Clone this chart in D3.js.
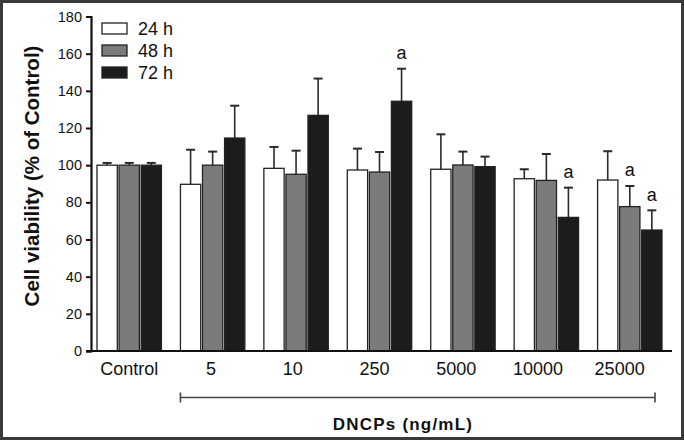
<!DOCTYPE html>
<html>
<head>
<meta charset="utf-8">
<script src="https://cdn.jsdelivr.net/npm/d3@7"></script>
<style>
  html, body { margin: 0; padding: 0; background: #fff; }
  svg { display: block; }
  text { font-family: "Liberation Sans", Arial, sans-serif; fill: #111; }
</style>
</head>
<body>
<svg id="chart"></svg>
<script>
// Data
const categories = ["Control", "5", "10", "250", "5000", "10000", "25000"];
const series = ["24 h", "48 h", "72 h"];
const mean24 = [100, 89.7, 98.3, 97.4, 97.8, 92.7, 92.0];
const err24 = [1.2, 18.6, 11.5, 11.5, 18.8, 5.1, 15.5];
const mean48 = [100, 100, 95.1, 96.3, 100.1, 91.8, 77.7];
const err48 = [1.2, 7.3, 12.7, 10.8, 7.2, 14.2, 11.1];
const mean72 = [100, 114.6, 126.8, 134.4, 99.2, 71.9, 65.1];
const err72 = [1.2, 17.4, 19.8, 17.5, 5.4, 16.0, 10.6];
const sig24 = ["", "", "", "", "", "", ""];
const sig48 = ["", "", "", "", "", "", "a"];
const sig72 = ["", "", "", "a", "", "a", "a"];
const yTicks = [0, 20, 40, 60, 80, 100, 120, 140, 160, 180];
const fills = ["#ffffff", "#7b7b7b", "#1c1c1c"];

const width = 684;
const height = 440;

const svg = d3.select("#chart")
  .attr("width", width)
  .attr("height", height);

// frame round the whole figure
svg.append("rect")
  .attr("x", 1.5).attr("y", 1.5)
  .attr("width", width - 3).attr("height", height - 3)
  .attr("fill", "#fff")
  .attr("stroke", "#3a3a3a")
  .attr("stroke-width", 3);

const axisLeftX = 91;
const axisRightX = 672;

// Scales
const y = d3.scaleLinear().domain([0, 180]).range([351, 16.5]);

const x0 = d3.scaleBand()
  .domain(categories)
  .range([87.5, 671.5])
  .paddingInner(0.228)
  .paddingOuter(0.114);

const x1 = d3.scaleBand()
  .domain(series)
  .range([0, x0.bandwidth()])
  .paddingInner(0.08);

// the category labels sit on a slightly tighter step than the bars
const xLabel = d3.scaleBand()
  .domain(categories)
  .range([88.5, 660.5]);

// rows: one per category per series
const rows = [];
const means = [mean24, mean48, mean72];
const errs = [err24, err48, err72];
const sigs = [sig24, sig48, sig72];
categories.forEach((c, i) => {
  series.forEach((s, j) => {
    rows.push({ cat: c, ser: s, idx: j, v: means[j][i], e: errs[j][i], sig: sigs[j][i] });
  });
});

const cx = (d) => x0(d.cat) + x1(d.ser) + x1.bandwidth() / 2;

// Error bars (upper only)
const eb = svg.append("g").attr("class", "errors");
eb.selectAll("line.stem")
  .data(rows)
  .enter()
  .append("line")
  .attr("x1", cx)
  .attr("x2", cx)
  .attr("y1", (d) => y(d.v))
  .attr("y2", (d) => y(d.v + d.e))
  .attr("stroke", "#2a2a2a")
  .attr("stroke-width", 1.6);

eb.selectAll("line.cap")
  .data(rows)
  .enter()
  .append("line")
  .attr("x1", (d) => cx(d) - 4.5)
  .attr("x2", (d) => cx(d) + 4.5)
  .attr("y1", (d) => y(d.v + d.e))
  .attr("y2", (d) => y(d.v + d.e))
  .attr("stroke", "#2a2a2a")
  .attr("stroke-width", 2);

// Bars
svg.append("g")
  .selectAll("rect")
  .data(rows)
  .enter()
  .append("rect")
  .attr("x", (d) => x0(d.cat) + x1(d.ser))
  .attr("y", (d) => y(d.v))
  .attr("width", x1.bandwidth())
  .attr("height", (d) => y(0) - y(d.v))
  .attr("fill", (d) => fills[d.idx])
  .attr("stroke", "#222")
  .attr("stroke-width", 1.3);

// significance letters
svg.append("g")
  .selectAll("text")
  .data(rows.filter((d) => d.sig))
  .enter()
  .append("text")
  .attr("x", cx)
  .attr("y", (d) => y(d.v + d.e) - 9.5)
  .attr("text-anchor", "middle")
  .style("font-size", "18px")
  .text((d) => d.sig);

// Y axis
const yAxis = svg.append("g")
  .attr("transform", `translate(${axisLeftX},0)`)
  .call(d3.axisLeft(y).tickValues(yTicks).tickSize(5).tickPadding(4));
yAxis.select(".domain").attr("stroke", "#111").attr("stroke-width", 2.2);
yAxis.selectAll(".tick line").attr("stroke", "#111").attr("stroke-width", 2);
yAxis.selectAll(".tick text")
  .style("font-size", "14.5px")
  .style("font-family", "'Liberation Sans', Arial, sans-serif")
  .attr("fill", "#111");

// X axis baseline
svg.append("line")
  .attr("x1", axisLeftX - 5)
  .attr("x2", axisRightX)
  .attr("y1", y(0))
  .attr("y2", y(0))
  .attr("stroke", "#111")
  .attr("stroke-width", 2.2);

// category labels
const xAxis = svg.append("g")
  .attr("transform", `translate(0,${y(0)})`)
  .call(d3.axisBottom(xLabel).tickSize(0).tickPadding(11));
xAxis.select(".domain").remove();
xAxis.selectAll(".tick text")
  .style("font-size", "18px")
  .style("font-family", "'Liberation Sans', Arial, sans-serif")
  .attr("fill", "#111");

// Bracket under the DNCP concentrations
const bx1 = x0("5");
const bx2 = x0("25000") + x0.bandwidth() - 7;
const by = 397.5;
const br = svg.append("g").attr("stroke", "#444").attr("stroke-width", 1.6);
br.append("line").attr("x1", bx1).attr("x2", bx2).attr("y1", by).attr("y2", by);
br.append("line").attr("x1", bx1).attr("x2", bx1).attr("y1", by - 5).attr("y2", by + 5);
br.append("line").attr("x1", bx2).attr("x2", bx2).attr("y1", by - 5).attr("y2", by + 5);

svg.append("text")
  .attr("x", 403)
  .attr("y", 430)
  .attr("text-anchor", "middle")
  .style("font-size", "17px")
  .style("font-weight", "bold")
  .style("letter-spacing", "1.2px")
  .text("DNCPs (ng/mL)");

// Y axis title
svg.append("text")
  .attr("transform", "translate(39,176) rotate(-90)")
  .attr("text-anchor", "middle")
  .style("font-size", "20.5px")
  .style("font-weight", "bold")
  .text("Cell viability (% of Control)");

// Legend
const legend = svg.append("g").attr("transform", "translate(102,23)");
const items = legend.selectAll("g")
  .data(series)
  .enter()
  .append("g")
  .attr("transform", (d, i) => `translate(0,${i * 22})`);
items.append("rect")
  .attr("width", 25)
  .attr("height", 11)
  .attr("fill", (d, i) => fills[i])
  .attr("stroke", "#222")
  .attr("stroke-width", 1.3);
items.append("text")
  .attr("x", 36)
  .attr("y", 12)
  .style("font-size", "18px")
  .text((d) => d);
</script>
</body>
</html>
